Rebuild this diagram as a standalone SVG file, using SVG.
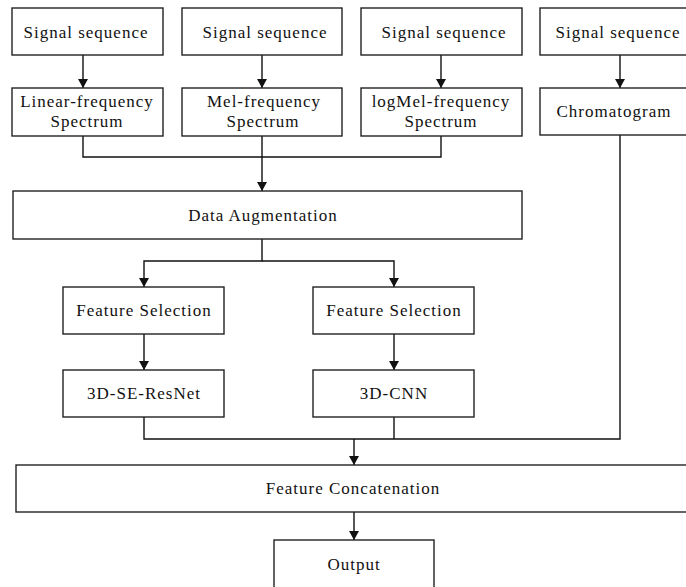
<svg xmlns="http://www.w3.org/2000/svg" width="686" height="587" viewBox="0 0 686 587">
<style>
.box{fill:#fff;stroke:#222;stroke-width:1.4}
.t{font-family:"Liberation Serif","Times New Roman",serif;font-size:17px;letter-spacing:1px;fill:#111;text-anchor:middle}
.c{fill:none;stroke:#111;stroke-width:1.4}
</style>
<defs>
<marker id="ad" markerUnits="userSpaceOnUse" markerWidth="10" markerHeight="11" refX="9" refY="5" orient="auto" viewBox="0 0 10 10">
<path d="M0,0 L9,5 L0,10 Z" fill="#111"/>
</marker>
</defs>
<g id="connectors">
<path class="c" d="M83,55 V88" marker-end="url(#ad)"/>
<path class="c" d="M262,55 V88" marker-end="url(#ad)"/>
<path class="c" d="M441,55 V88" marker-end="url(#ad)"/>
<path class="c" d="M620,55 V88" marker-end="url(#ad)"/>
<path class="c" d="M83,136 V157 H441 V136"/>
<path class="c" d="M262,136 V191" marker-end="url(#ad)" stroke-width="1.8"/>
<path class="c" d="M262,239 V261 H144 V287" marker-end="url(#ad)"/>
<path class="c" d="M262,261 H394 V287" marker-end="url(#ad)"/>
<path class="c" d="M144,334 V370" marker-end="url(#ad)"/>
<path class="c" d="M394,334 V370" marker-end="url(#ad)"/>
<path class="c" d="M144,417 V439 H620 V135"/>
<path class="c" d="M394,417 V439"/>
<path class="c" d="M354,439 V465" marker-end="url(#ad)"/>
<path class="c" d="M354,512 V540" marker-end="url(#ad)"/>
</g>
<g id="sig1"><rect class="box" x="12" y="8" width="151" height="47"/><text class="t" x="86" y="38">Signal sequence</text></g>
<g id="sig2"><rect class="box" x="182" y="8" width="160" height="47"/><text class="t" x="265" y="38">Signal sequence</text></g>
<g id="sig3"><rect class="box" x="361" y="8" width="161" height="47"/><text class="t" x="444" y="38">Signal sequence</text></g>
<g id="sig4"><rect class="box" x="540" y="8" width="160" height="47"/><text class="t" x="618" y="38">Signal sequence</text></g>
<g id="linear"><rect class="box" x="12" y="88" width="151" height="48"/><text class="t" x="87" y="107">Linear-frequency</text><text class="t" x="87" y="127">Spectrum</text></g>
<g id="mel"><rect class="box" x="182" y="88" width="160" height="48"/><text class="t" x="264" y="107">Mel-frequency</text><text class="t" x="263" y="127">Spectrum</text></g>
<g id="logmel"><rect class="box" x="361" y="88" width="161" height="48"/><text class="t" x="441" y="107">logMel-frequency</text><text class="t" x="441" y="127">Spectrum</text></g>
<g id="chroma"><rect class="box" x="540" y="88" width="160" height="47"/><text class="t" x="614" y="117">Chromatogram</text></g>
<g id="aug"><rect class="box" x="13" y="191" width="509" height="48"/><text class="t" x="263" y="221">Data Augmentation</text></g>
<g id="fs1"><rect class="box" x="63" y="287" width="161" height="47"/><text class="t" x="144" y="316">Feature Selection</text></g>
<g id="fs2"><rect class="box" x="313" y="287" width="161" height="47"/><text class="t" x="394" y="316">Feature Selection</text></g>
<g id="resnet"><rect class="box" x="63" y="370" width="161" height="47"/><text class="t" x="144" y="399">3D-SE-ResNet</text></g>
<g id="cnn"><rect class="box" x="313" y="370" width="161" height="47"/><text class="t" x="394" y="399">3D-CNN</text></g>
<g id="concat"><rect class="box" x="16" y="465" width="680" height="47"/><text class="t" x="353" y="494">Feature Concatenation</text></g>
<g id="output"><rect class="box" x="274" y="540" width="160" height="52"/><text class="t" x="354" y="570">Output</text></g>
</svg>
